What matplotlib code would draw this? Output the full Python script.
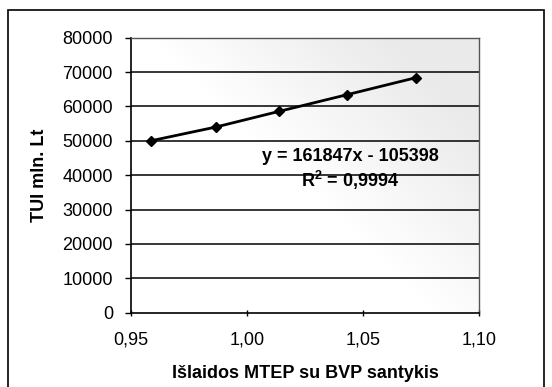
import numpy as np
import matplotlib
matplotlib.use("Agg")
import matplotlib.pyplot as plt
from matplotlib.patches import Rectangle

# Data
x_ratio = [0.9585, 0.9865, 1.014, 1.043, 1.073]
tui = [50000, 54000, 58600, 63400, 68400]
x_ticks = [0.95, 1.00, 1.05, 1.10]
x_tick_labels = ["0,95", "1,00", "1,05", "1,10"]
y_ticks = [0, 10000, 20000, 30000, 40000, 50000, 60000, 70000, 80000]
eq_text = "y = 161847x - 105398"
r2_text = "R$^2$ = 0,9994"
x_label = "Išlaidos MTEP su BVP santykis"
y_label = "TUI mln. Lt"

plt.rcParams['font.family'] = ['Liberation Sans', 'DejaVu Sans']
plt.rcParams['mathtext.fontset'] = 'custom'
plt.rcParams['mathtext.rm'] = 'Liberation Sans:bold'
plt.rcParams['mathtext.bf'] = 'Liberation Sans:bold'

fig = plt.figure(figsize=(5.52, 3.87), dpi=100)
fig.patch.set_facecolor("white")
# outer frame
fig.add_artist(Rectangle((8/552, -0.05), (544-8)/552, 1 - 10/387 + 0.05,
                         transform=fig.transFigure, fill=False,
                         edgecolor="black", linewidth=1.2))

ax = fig.add_axes([131/552, 1 - 312.7/387, (479-131)/552, (312.7-37.7)/387])

# light stippled shading in upper right (scan texture)
gx, gy = np.meshgrid(np.linspace(0, 1, 200), np.linspace(0, 1, 200))
shade = np.clip((gx * 1.2 + gy * 1.0 - 1.05) / 0.8, 0, 1)
rgba = np.zeros((200, 200, 4))
rgba[..., :3] = 0.6
rgba[..., 3] = shade * 0.2
ax.imshow(rgba, extent=[0, 1, 0, 1], transform=ax.transAxes, origin="lower",
          aspect="auto", zorder=0, interpolation="bilinear")

ax.set_xlim(0.95, 1.10)
ax.set_ylim(0, 80000)
ax.set_yticks(y_ticks)
ax.set_yticklabels([str(v) for v in y_ticks])
ax.set_xticks(x_ticks)
ax.set_xticklabels(x_tick_labels)

for v in y_ticks[1:]:
    ax.axhline(v, color="black", linewidth=1.1, zorder=1)

ax.plot(x_ratio, tui, color="black", linewidth=2, marker="D", markersize=5,
        zorder=3)

ax.text(1.0445, 45500, eq_text, ha="center", va="center", fontsize=13,
        fontweight="bold", zorder=4)
ax.text(1.0445, 38500, r2_text, ha="center", va="center", fontsize=13,
        fontweight="bold", zorder=4)

for s in ["top", "right"]:
    ax.spines[s].set_linestyle((0, (1, 1)))
    ax.spines[s].set_color("#555555")
    ax.spines[s].set_linewidth(1)
ax.spines["left"].set_linewidth(1.2)
ax.spines["bottom"].set_linewidth(1.2)

ax.tick_params(axis="y", direction="out", length=4, width=1, labelsize=13, pad=9)
ax.tick_params(axis="x", direction="inout", length=5, width=1, labelsize=13, pad=11)

ax.set_xlabel(x_label, fontsize=13, fontweight="bold", labelpad=12)
ax.set_ylabel(y_label, fontsize=13, fontweight="bold", labelpad=10)

fig.savefig("out.png", dpi=100)
